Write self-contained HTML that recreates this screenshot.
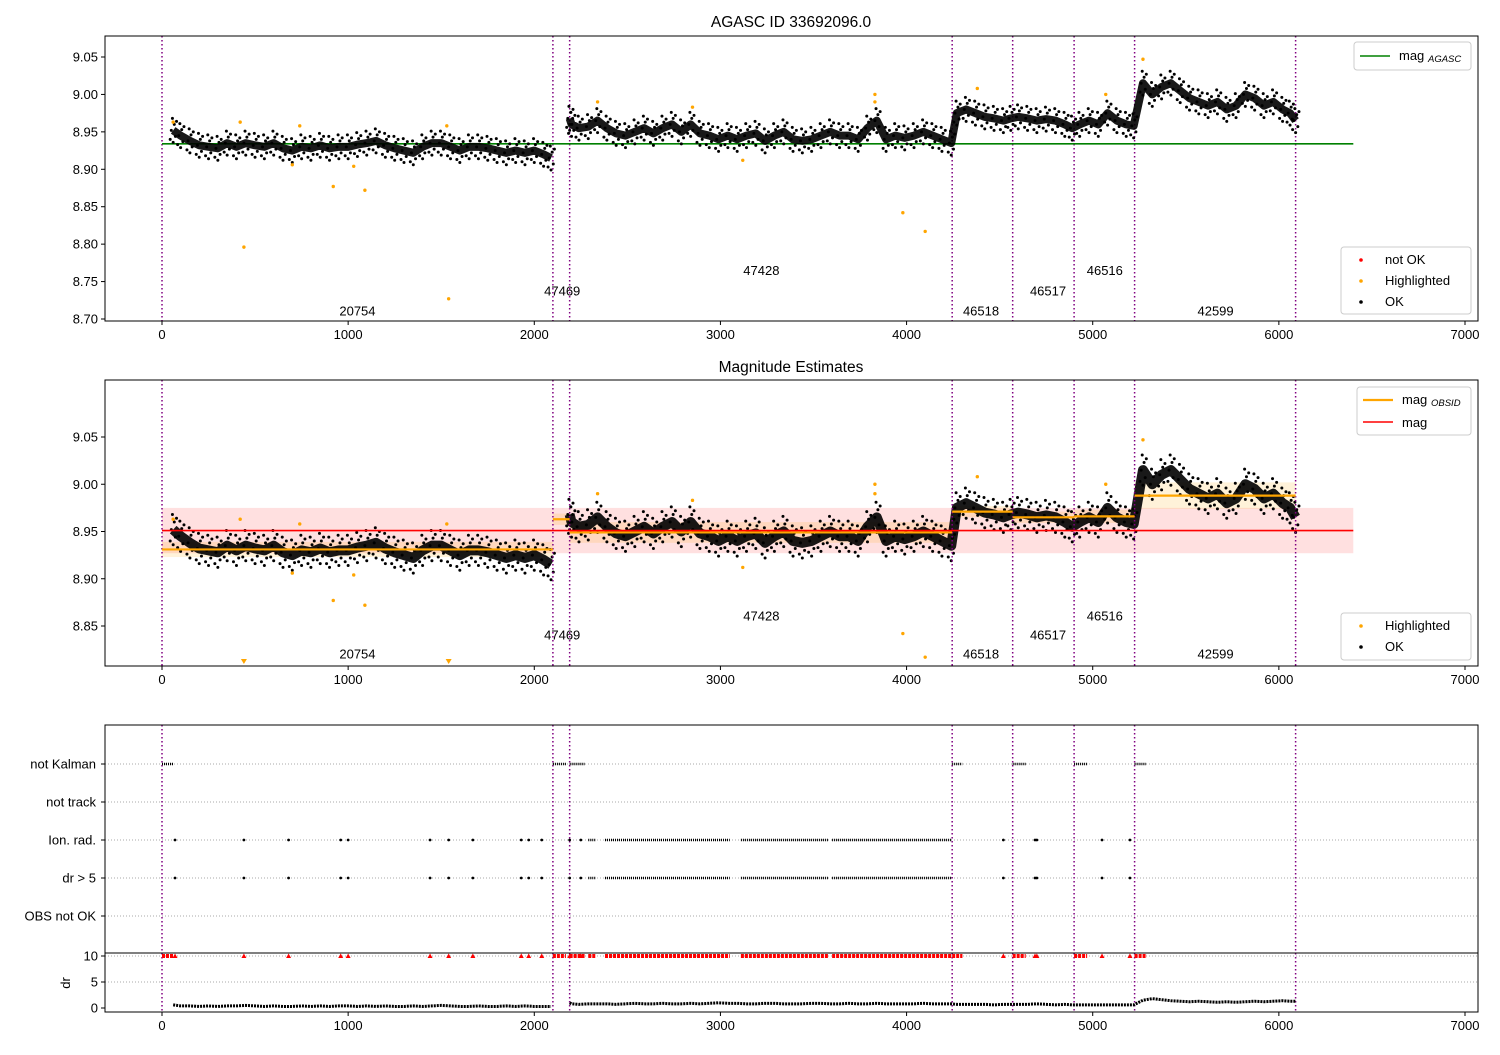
<!DOCTYPE html>
<html><head><meta charset="utf-8"><style>
body{margin:0;background:#fff;}
svg{font-family:"Liberation Sans","DejaVu Sans",sans-serif;}
</style></head><body>
<svg id="fig" width="1500" height="1050" xmlns="http://www.w3.org/2000/svg"></svg>
<script>
// ---- data ----
const obsids = ["20754","47469","47428","46518","46517","46516","42599"];
const obsStart = [0,2100,2190,4245,4570,4900,5225];
const obsStop = [2100,2190,4245,4570,4900,5225,6090];
const obsMean = [8.931,8.963,8.949,8.971,8.965,8.966,8.988];
const obsSpread = [0.008,0.006,0.011,0.006,0.006,0.007,0.014];
const labelMag1 = [8.71,8.737,8.764,8.71,8.737,8.764,8.71];
const labelMag2 = [8.82,8.84,8.86,8.82,8.84,8.86,8.82];
const labelTime = [1050,2150,3220,4400,4760,5065,5660];
const agascMag = 8.934;
const magMean = 8.951, magSpread = 0.024;
const sampleTime = [60,100,150,200,250,300,350,400,450,500,550,600,650,700,750,800,850,900,950,1000,1050,1100,1150,1200,1250,1300,1350,1400,1450,1500,1550,1600,1650,1700,1750,1800,1850,1900,1950,2000,2050,2090,
2190,2200,2240,2290,2340,2390,2440,2490,2540,2590,2640,2690,2740,2790,2840,2890,2940,2990,3040,3090,3140,3190,3240,3290,3340,3390,3440,3490,3540,3590,3640,3690,3740,3790,3840,3890,3940,3990,4040,4090,4140,4190,4240,
4270,4320,4370,4420,4470,4520,4560,4600,4650,4700,4750,4800,4850,4890,4930,4980,5030,5080,5130,5180,5220,
5270,5320,5370,5420,5470,5520,5570,5620,5670,5720,5770,5820,5870,5920,5970,6020,6060,6090];
const sampleMag = [8.952,8.945,8.938,8.932,8.93,8.928,8.935,8.93,8.935,8.932,8.93,8.935,8.928,8.925,8.93,8.928,8.932,8.928,8.93,8.93,8.933,8.935,8.938,8.932,8.928,8.925,8.922,8.93,8.935,8.935,8.93,8.925,8.93,8.93,8.928,8.925,8.922,8.925,8.922,8.925,8.92,8.915,
8.968,8.96,8.955,8.957,8.965,8.955,8.948,8.945,8.95,8.955,8.948,8.955,8.96,8.95,8.96,8.948,8.945,8.94,8.945,8.94,8.945,8.948,8.938,8.945,8.95,8.94,8.938,8.94,8.945,8.95,8.945,8.945,8.94,8.955,8.965,8.94,8.945,8.942,8.945,8.95,8.945,8.94,8.935,
8.975,8.98,8.975,8.97,8.968,8.965,8.968,8.97,8.968,8.965,8.967,8.965,8.96,8.955,8.96,8.965,8.96,8.975,8.965,8.96,8.958,
9.015,9.0,9.01,9.015,9.005,8.995,8.99,8.985,8.99,8.98,8.985,9.0,8.995,8.985,8.99,8.98,8.975,8.965];
const sampleDr = [0.6,0.4,0.4,0.3,0.4,0.3,0.4,0.4,0.5,0.4,0.3,0.4,0.3,0.3,0.4,0.3,0.4,0.3,0.4,0.4,0.3,0.4,0.3,0.4,0.3,0.3,0.4,0.3,0.4,0.5,0.4,0.3,0.3,0.4,0.3,0.3,0.4,0.3,0.4,0.3,0.3,0.3,
1.0,0.8,0.7,0.8,0.8,0.8,0.7,0.8,0.9,0.8,0.8,0.9,0.8,0.8,0.9,0.8,0.9,1.0,0.9,0.9,0.8,0.8,0.9,0.9,0.8,0.8,0.8,0.9,0.9,0.8,0.8,0.9,0.8,0.8,0.9,0.8,0.8,0.8,0.8,0.9,0.8,0.8,0.8,
0.7,0.7,0.7,0.7,0.6,0.7,0.7,0.7,0.7,0.8,0.7,0.6,0.7,0.6,0.6,0.6,0.6,0.6,0.6,0.6,0.6,
1.5,1.8,1.6,1.4,1.3,1.2,1.3,1.2,1.1,1.2,1.1,1.2,1.3,1.2,1.3,1.4,1.3,1.3];
const hiTime = [440,1540,920,1090,1030,700,3980,4100,5270,3830,4380,5070,2340,60,420,740,1530,3120,3830,2850];
const hiMag = [8.796,8.727,8.877,8.872,8.904,8.906,8.842,8.817,9.047,9.0,9.008,9.0,8.99,8.963,8.963,8.958,8.958,8.912,8.99,8.983];
const kalmanStart = [0,2100,2190,4245,4570,4900,5225];
const kalmanStop = [60,2170,2270,4300,4640,4970,5290];
const ionDenseStart = [2290,2380,3110,3600];
const ionDenseStop = [2330,3050,3580,4240];
const ionSparse = [70,440,680,960,1000,1440,1540,1670,1930,1970,2040,2190,2250,4520,4690,4700,5050,5200];
const flagCats = ["not Kalman","not track","Ion. rad.","dr > 5","OBS not OK"];
const xTicks = [0,1000,2000,3000,4000,5000,6000,7000];
const yTicks1 = [9.05,9.00,8.95,8.90,8.85,8.80,8.75,8.70];
const yTicks2 = [9.05,9.00,8.95,8.90,8.85];
const drTicks = [10,5,0];

// ---- helpers ----
const NS="http://www.w3.org/2000/svg";
const svg=document.getElementById('fig');
function mk(tag,attrs,parent){const e=document.createElementNS(NS,tag);for(const k in attrs)e.setAttribute(k,attrs[k]);(parent||svg).appendChild(e);return e;}
const X0=105,X1=1478;
const x=t=>162+t*(1465-162)/7000;
function yLin(v0,p0,v1,p1){return v=>p0+(v-v0)*(p1-p0)/(v1-v0);}
const y1=yLin(9.05,57,8.70,319);
const y2=yLin(9.05,437,8.85,626);
const yDr=yLin(10,956,0,1008);
const catY=[764,802,840,878,916];

function txt(s,xx,yy,opts,name){const e=mk('text',Object.assign({x:xx,y:yy,'font-size':13,fill:'#000'},opts||{}));e.textContent=s;

return e;}

function axesFrame(name){const g=mk('g',{});


return g;}
function frame(g,top,bot){mk('rect',{x:X0,y:top,width:X1-X0,height:bot-top,fill:'none',stroke:'#000','stroke-width':1},g);}
function xAxis(g,bot){xTicks.forEach(t=>{mk('line',{x1:x(t),x2:x(t),y1:bot,y2:bot+4,stroke:'#000'},g);
txt(String(t),x(t),bot+18,{'text-anchor':'middle'},'x-tick-label');});}
function yAxis(g,ticks,yf,fmt){ticks.forEach(v=>{const yy=yf(v);mk('line',{x1:X0-4,x2:X0,y1:yy,y2:yy,stroke:'#000'},g);
txt(fmt(v),X0-7,yy+4.5,{'text-anchor':'end'},'y-tick-label');});}
function vlines(g,top,bot){const all=obsStart.concat([obsStop[obsStop.length-1]]);all.forEach(t=>{const l=mk('line',{x1:x(t),x2:x(t),y1:top,y2:bot,stroke:'#800080','stroke-width':1.5,'stroke-dasharray':'1.5,2.5'},g);

});}
const offs=[[-0.016,0],[-0.008,12],[0.0,-10],[0.008,6],[0.016,-4],[0.012,18],[-0.012,-16]];
function dataBand(g,yf,w){
 let seg=[];const segs=[];
 for(let i=0;i<sampleTime.length;i++){if(i>0&&sampleTime[i]-sampleTime[i-1]>60){segs.push(seg);seg=[];}seg.push(i);}segs.push(seg);
 segs.forEach(s=>{const pts=s.map(i=>x(sampleTime[i])+','+yf(sampleMag[i])).join(' ');
  const pl=mk('polyline',{points:pts,fill:'none',stroke:'#000','stroke-width':w,'stroke-linejoin':'round','stroke-linecap':'butt',opacity:0.9},g);
  
  
  s.forEach(i=>{offs.forEach(o=>{const c=mk('circle',{cx:x(sampleTime[i]+o[1]),cy:yf(sampleMag[i]+o[0]),r:1.5,fill:'#000'},g);
   
   });});
 });
}
function legendBox(g,bx,by,w,h){mk('rect',{x:bx,y:by,width:w,height:h,rx:3,fill:'#fff','fill-opacity':0.8,stroke:'#ccc'},g);}

// ---- panel 1 ----
const p1=axesFrame('magnitude-panel');
txt("AGASC ID 33692096.0",791,27,{'text-anchor':'middle','font-size':15.5},'chart-title');
vlines(p1,36,321);
let gl=mk('line',{x1:x(0),x2:x(6400),y1:y1(agascMag),y2:y1(agascMag),stroke:'#008000','stroke-width':1.6},p1);

dataBand(p1,y1,8);
hiTime.forEach((t,i)=>{const c=mk('circle',{cx:x(t),cy:y1(hiMag[i]),r:1.7,fill:'#ffa500'},p1);
});
obsids.forEach((o,i)=>txt(o,x(labelTime[i]),y1(labelMag1[i])+4,{'text-anchor':'middle'},'obsid-label'));
frame(p1,36,321);xAxis(p1,321);yAxis(p1,yTicks1,y1,v=>v.toFixed(2));
legendBox(p1,1354,42,117,28);
mk('line',{x1:1360,x2:1390,y1:56,y2:56,stroke:'#008000','stroke-width':1.6},p1);
txt("mag",1399,60,{},'legend-agasc');txt("AGASC",1428,62,{'font-size':9.5,'font-style':'italic'},'legend-sub');
legendBox(p1,1341,247,130,67);
mk('circle',{cx:1361,cy:260,r:1.8,fill:'red'},p1);txt("not OK",1385,264,{},'legend-not-ok');
mk('circle',{cx:1361,cy:281,r:1.8,fill:'#ffa500'},p1);txt("Highlighted",1385,285,{},'legend-highlighted');
mk('circle',{cx:1361,cy:302,r:1.8,fill:'#000'},p1);txt("OK",1385,306,{},'legend-ok');

// ---- panel 2 ----
const p2=axesFrame('estimates-panel');
txt("Magnitude Estimates",791,372,{'text-anchor':'middle','font-size':15.5},'chart-title-2');
let band=mk('rect',{x:x(0),y:y2(magMean+magSpread),width:x(6400)-x(0),height:y2(magMean-magSpread)-y2(magMean+magSpread),fill:'#ff0000','fill-opacity':0.12},p2);

obsStart.forEach((s,i)=>{const r=mk('rect',{x:x(s),y:y2(obsMean[i]+obsSpread[i]),width:x(obsStop[i])-x(s),height:y2(obsMean[i]-obsSpread[i])-y2(obsMean[i]+obsSpread[i]),fill:'#ffa500','fill-opacity':0.15},p2);
});
dataBand(p2,y2,10);
vlines(p2,380,666);
obsStart.forEach((s,i)=>{const l=mk('line',{x1:x(s),x2:x(obsStop[i]),y1:y2(obsMean[i]),y2:y2(obsMean[i]),stroke:'#ffa500','stroke-width':2.2},p2);
});
let rl=mk('line',{x1:x(0),x2:x(6400),y1:y2(magMean),y2:y2(magMean),stroke:'red','stroke-width':1.6},p2);

hiTime.forEach((t,i)=>{if(hiMag[i]<8.808){const xx=x(t),yy=662;const p=mk('path',{d:`M${xx-3},${yy-3}L${xx+3},${yy-3}L${xx},${yy+2}Z`,fill:'#ffa500'},p2);
}
else{const c=mk('circle',{cx:x(t),cy:y2(hiMag[i]),r:1.7,fill:'#ffa500'},p2);
}});
obsids.forEach((o,i)=>txt(o,x(labelTime[i]),y2(labelMag2[i])+4,{'text-anchor':'middle'},'obsid-label'));
frame(p2,380,666);xAxis(p2,666);yAxis(p2,yTicks2,y2,v=>v.toFixed(2));
legendBox(p2,1357,387,114,48);
mk('line',{x1:1363,x2:1393,y1:400,y2:400,stroke:'#ffa500','stroke-width':2.2},p2);
txt("mag",1402,404,{},'legend-obsid');txt("OBSID",1431,406,{'font-size':9.5,'font-style':'italic'},'legend-sub');
mk('line',{x1:1363,x2:1393,y1:422,y2:422,stroke:'red','stroke-width':1.6},p2);txt("mag",1402,427,{},'legend-mag');
legendBox(p2,1341,613,130,47);
mk('circle',{cx:1361,cy:626,r:1.8,fill:'#ffa500'},p2);txt("Highlighted",1385,630,{},'legend-highlighted');
mk('circle',{cx:1361,cy:647,r:1.8,fill:'#000'},p2);txt("OK",1385,651,{},'legend-ok');

// ---- panel 3 ----
const p3=axesFrame('flags-panel');
catY.forEach((yy,i)=>{mk('line',{x1:X0,x2:X1,y1:yy,y2:yy,stroke:'#aaa','stroke-dasharray':'1,2'},p3);
mk('line',{x1:X0-4,x2:X0,y1:yy,y2:yy,stroke:'#000'},p3);
txt(flagCats[i],X0-9,yy+4.5,{'text-anchor':'end'},'flag-category-label');});
vlines(p3,725,953);
kalmanStart.forEach((s,i)=>{const l=mk('line',{x1:x(s),x2:x(kalmanStop[i]),y1:catY[0],y2:catY[0],stroke:'#000','stroke-width':2.5,'stroke-dasharray':'1,1'},p3);
});
[2,3].forEach(ci=>{ionDenseStart.forEach((s,i)=>{const l=mk('line',{x1:x(s),x2:x(ionDenseStop[i]),y1:catY[ci],y2:catY[ci],stroke:'#000','stroke-width':2.5,'stroke-dasharray':'1,1'},p3);
});
ionSparse.forEach(t=>{const c=mk('circle',{cx:x(t),cy:catY[ci],r:1.4,fill:'#000'},p3);
});});
frame(p3,725,953);

// ---- panel 4 ----
const p4=axesFrame('dr-panel');
[10,5].forEach(v=>mk('line',{x1:X0,x2:X1,y1:yDr(v),y2:yDr(v),stroke:'#aaa','stroke-dasharray':'1,2'},p4));
vlines(p4,953,1012);
const redT=kalmanStart.map((s,i)=>[s,kalmanStop[i]]).concat(ionDenseStart.map((s,i)=>[s,ionDenseStop[i]]));
redT.forEach(r=>{const l=mk('line',{x1:x(r[0]),x2:x(r[1]),y1:yDr(10),y2:yDr(10),stroke:'red','stroke-width':4,'stroke-dasharray':'3,1'},p4);
});
ionSparse.forEach(t=>{const xx=x(t),yy=yDr(10);const p=mk('path',{d:`M${xx-2.5},${yy+2}L${xx+2.5},${yy+2}L${xx},${yy-2.5}Z`,fill:'red'},p4);
});
let seg=[];const segs=[];
for(let i=0;i<sampleTime.length;i++){if(i>0&&sampleTime[i]-sampleTime[i-1]>60){segs.push(seg);seg=[];}seg.push(i);}segs.push(seg);
segs.forEach(s=>{const pl=mk('polyline',{points:s.map(i=>x(sampleTime[i])+','+yDr(sampleDr[i])).join(' '),fill:'none',stroke:'#000','stroke-width':3,'stroke-dasharray':'2,1'},p4);
});
frame(p4,953,1012);xAxis(p4,1012);yAxis(p4,drTicks,yDr,v=>String(v));
txt("dr",70,983,{'text-anchor':'middle',transform:'rotate(-90 70 983)'},'dr-axis-title');
</script>
</body></html>
